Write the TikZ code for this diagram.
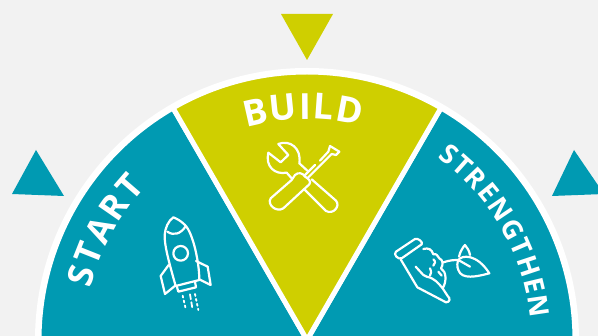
\documentclass[tikz,border=0pt]{standalone}
\usepackage{fontspec}
\setmainfont{Open Sans}
\usetikzlibrary{decorations.text}
\definecolor{teal}{HTML}{009AB2}
\definecolor{lime}{HTML}{CFCF00}
\definecolor{paper}{HTML}{F2F2F2}
\tikzset{
 x=1pt,y=1pt,
 sector/.style={draw=white,line width=5pt,line join=miter},
 icon/.style={draw=white,line width=2.2pt,line join=round,line cap=round,xscale=1/3,yscale=-1/3},
}
\newcommand{\curved}[4]{\path[decorate,decoration={text along path,text format delimiters={|}{|},text align={fit to path},text color=white,text={|\fontsize{#4}{#4}\selectfont\bfseries|#3}}] (C) ++(#1:#2) arc[start angle=#1,end angle=#1-2*(#1-\cang),radius=#2];}
\begin{document}
\begin{tikzpicture}
\useasboundingbox (0,0) rectangle (598,336);
\clip (0,0) rectangle (598,336);
\fill[paper] (0,0) rectangle (598,336);
\coordinate (C) at (307,-4);
\fill[white] (C) circle[radius=272];
\filldraw[sector,fill=teal] (C) -- ++(120:268) arc[start angle=120,end angle=180,radius=268] -- cycle;
\filldraw[sector,fill=teal] (C) -- ++(60:268) arc[start angle=60,end angle=0,radius=268] -- cycle;
\filldraw[sector,fill=lime] (C) -- ++(120:268) arc[start angle=120,end angle=60,radius=268] -- cycle;
% markers
\fill[lime] (281,322) -- (333,322) -- (307,276) -- cycle;
\fill[teal] (36,186) -- (12,142) -- (64,140) -- cycle;
\fill[teal] (574,186) -- (552,140) -- (604,142) -- cycle;
% labels
\def\cang{91}
\curved{106}{221}{BUILD}{36}
\def\cang{151.5}
\curved{166.5}{222}{START}{35}
\def\cang{30}
\curved{54.5}{224}{STRENGTHEN}{27}
% rocket
\begin{scope}[shift={(140,136)}]
\draw[icon] (100,52) .. controls (85,62) and (75,85) .. (74,105) .. controls (73,135) and (85,180) .. (107,258) -- (178,240) .. controls (178,190) and (160,100) .. (135,75) .. controls (122,62) and (110,56) .. (100,52) -- cycle;
\draw[icon] (82,95) .. controls (100,108) and (122,102) .. (136,80);
\draw[icon] (122,160) circle[radius=22];
\draw[icon] (86,195) -- (62,228) -- (75,282) -- (107,256);
\draw[icon] (168,183) -- (203,200) -- (212,255) -- (178,238);
\draw[icon] (110,258) -- (115,275) -- (168,262) -- (165,245);
\draw[icon,line width=1.8pt,dash pattern=on 2pt off 3pt] (128,287) -- (138,330);
\draw[icon,line width=1.8pt,dash pattern=on 5pt off 3pt] (150,283) -- (158,330);
\draw[icon,line width=1.8pt,dash pattern=on 2pt off 3pt] (165,282) -- (175,330);
\end{scope}
% tools
\begin{scope}[shift={(250,206)}]
\draw[icon] (85,42) .. controls (120,28) and (155,55) .. (148,100) -- (172,122);
\draw[icon] (185,148) -- (258,212) .. controls (272,228) and (250,255) .. (228,243) -- (165,180);
\draw[icon] (125,145) -- (110,128) .. controls (75,135) and (45,110) .. (55,68) -- (92,97) -- (115,75) -- (85,42);
\draw[icon] (240,48) -- (268,65) -- (258,75) -- (245,72) -- (172,145);
\draw[icon] (240,48) -- (235,65) -- (210,92);
\draw[icon] (195,105) -- (165,135);
\draw[icon] (125,150) -- (135,135) .. controls (145,125) and (160,130) .. (165,140) .. controls (175,145) and (185,155) .. (178,163) -- (100,235) .. controls (80,248) and (50,225) .. (62,205) -- (125,150);
\end{scope}
% plant
\begin{scope}[shift={(380,111)}]
\draw[icon] (48,80) -- (105,42) .. controls (112,38) and (130,50) .. (125,58) -- (65,100) .. controls (55,105) and (38,88) .. (48,80) -- cycle;
\draw[icon] (62,103) -- (112,187) -- (198,232) .. controls (210,232) and (212,220) .. (203,213) -- (188,190);
\draw[icon] (130,72) .. controls (145,68) and (155,72) .. (160,88) .. controls (170,85) and (172,92) .. (178,100) .. controls (190,105) and (190,120) .. (183,130) .. controls (200,140) and (200,170) .. (188,190) .. controls (175,175) and (165,160) .. (140,155) -- (130,150) -- (107,125);
\draw[icon] (160,103) .. controls (168,108) and (165,118) .. (160,122);
\draw[icon] (150,130) .. controls (155,140) and (153,148) .. (150,152);
\draw[icon] (175,140) -- (185,152);
\draw[icon] (190,112) .. controls (210,105) and (225,105) .. (235,105) -- (270,125);
\draw[icon] (235,105) .. controls (245,90) and (290,85) .. (328,145) .. controls (290,155) and (245,165) .. (235,135) .. controls (230,125) and (232,112) .. (235,105);
\draw[icon] (237,95) .. controls (240,80) and (250,65) .. (255,60) .. controls (262,68) and (268,78) .. (270,90);
\end{scope}
\end{tikzpicture}
\end{document}
